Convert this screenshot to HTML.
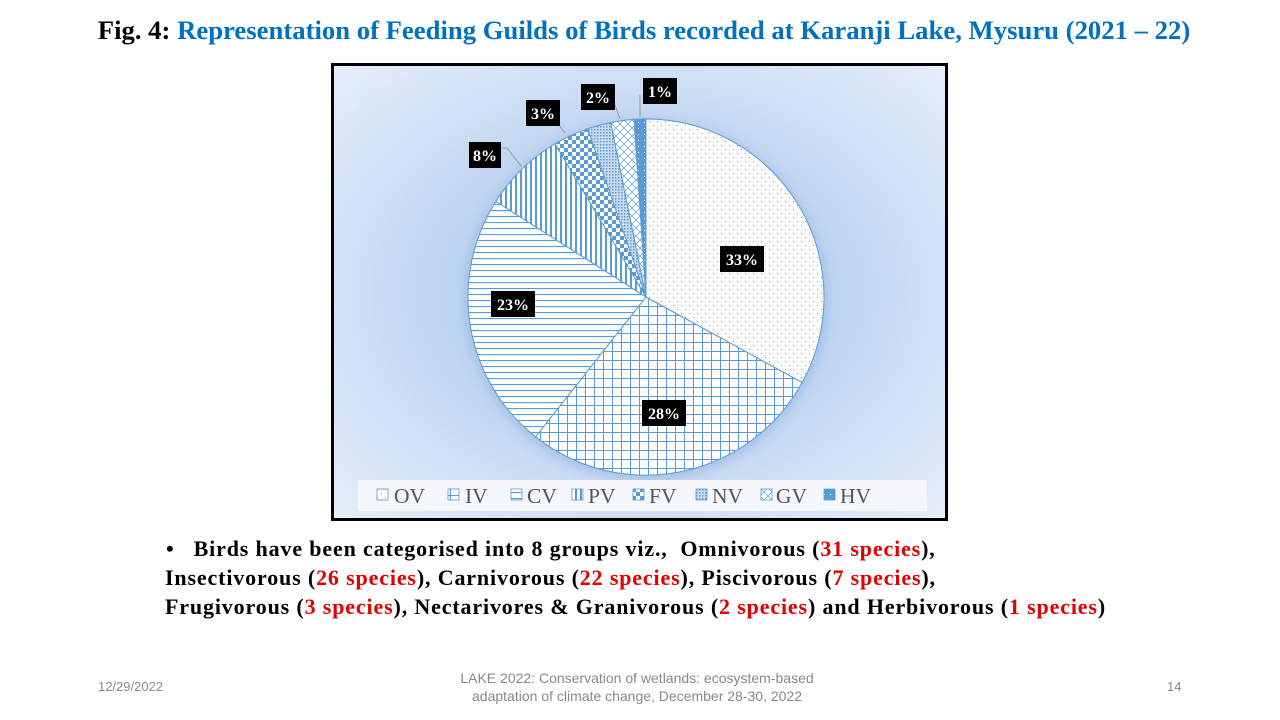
<!DOCTYPE html>
<html><head><meta charset="utf-8"><style>
body{margin:0;width:1280px;height:720px;background:#fff;position:relative;overflow:hidden;font-family:"Liberation Serif",serif}
.t{position:absolute;left:0;width:1288px;text-align:center;top:15px;font-size:26.7px;font-weight:bold;color:#0070c0;white-space:nowrap}
.b{position:absolute;font-size:22px;letter-spacing:0.85px;font-weight:bold;color:#000;white-space:nowrap}
.r{color:#e00000}
.f{position:absolute;font-family:"Liberation Sans",sans-serif;font-size:13px;color:#888}
</style></head><body>
<div class="t"><span style="color:#000">Fig. 4:</span> Representation of Feeding Guilds of Birds recorded at Karanji Lake, Mysuru (2021 – 22)</div>
<svg style="position:absolute;left:0;top:0" width="1280" height="720">
<defs>
<radialGradient id="bg" cx="0.5" cy="0.5" r="0.7"><stop offset="0.35" stop-color="#b7cff0"/><stop offset="1" stop-color="#e6effb"/></radialGradient>
<pattern id="ov" width="8" height="8" patternUnits="userSpaceOnUse"><rect width="8" height="8" fill="#fff"/><rect x="1" y="1" width="1" height="1" fill="#6f9fd0"/><rect x="5" y="5" width="1" height="1" fill="#6f9fd0"/></pattern>
<pattern id="iv" width="9" height="9" patternUnits="userSpaceOnUse"><rect width="9" height="9" fill="#fff"/><path d="M0 0.5H9M0.5 0V9" stroke="#5b9bd5" stroke-width="1"/></pattern>
<pattern id="cv" width="6" height="6" patternUnits="userSpaceOnUse"><rect width="6" height="6" fill="#fff"/><path d="M0 0.5H6" stroke="#5b9bd5" stroke-width="1.2"/></pattern>
<pattern id="pv" width="5" height="5" patternUnits="userSpaceOnUse"><rect width="5" height="5" fill="#fff"/><path d="M1 0V5" stroke="#5b9bd5" stroke-width="2"/></pattern>
<pattern id="fv" width="8" height="8" patternUnits="userSpaceOnUse"><rect width="8" height="8" fill="#fff"/><rect width="4" height="4" fill="#5b9bd5"/><rect x="4" y="4" width="4" height="4" fill="#5b9bd5"/></pattern>
<pattern id="nv" width="3" height="3" patternUnits="userSpaceOnUse"><rect width="3" height="3" fill="#c8dbef"/><rect width="1.5" height="1.5" fill="#5b9bd5"/></pattern>
<pattern id="gv" width="8" height="8" patternUnits="userSpaceOnUse"><rect width="8" height="8" fill="#fff"/><path d="M0 0L8 8M8 0L0 8" stroke="#7aa9da" stroke-width="0.8"/></pattern>
<pattern id="hv" width="6" height="6" patternUnits="userSpaceOnUse"><rect width="6" height="6" fill="#5b9bd5"/><rect x="2" y="2" width="1" height="1" fill="#fff"/></pattern>
<filter id="sh"><feGaussianBlur stdDeviation="6"/></filter>
</defs>
<rect x="332.5" y="64.5" width="614" height="455" fill="url(#bg)" stroke="#000" stroke-width="3"/>
<circle cx="646" cy="300" r="180" fill="#7fa7d8" opacity="0.5" filter="url(#sh)"/>
<g stroke="#5b9bd5" stroke-width="1">
<path d="M646 297L646 119A178 178 0 0 1 802.1 382.5Z" fill="url(#ov)"/>
<path d="M646 297L802.1 382.5A178 178 0 0 1 535.6 436.8Z" fill="url(#iv)"/>
<path d="M646 297L535.6 436.8A178 178 0 0 1 495.9 201.5Z" fill="url(#cv)"/>
<path d="M646 297L495.9 201.5A178 178 0 0 1 555.1 143.8Z" fill="url(#pv)"/>
<path d="M646 297L555.1 143.8A178 178 0 0 1 587.7 128.8Z" fill="url(#fv)"/>
<path d="M646 297L587.7 128.8A178 178 0 0 1 610.7 122.5Z" fill="url(#nv)"/>
<path d="M646 297L610.7 122.5A178 178 0 0 1 634.1 119.4Z" fill="url(#gv)"/>
<path d="M646 297L634.1 119.4A178 178 0 0 1 646 119Z" fill="url(#hv)"/>
</g>
<g stroke="#999" fill="none" stroke-width="1">
<path d="M500 148L507 148L521 166"/><path d="M555 120L565 133"/><path d="M615 105L620 119"/><path d="M640 95L640 117"/>
</g>
<g font-family="Liberation Serif,serif" font-weight="bold" font-size="16" fill="#fff" text-anchor="middle">
<rect x="720" y="246" width="44" height="26" fill="#000"/><text x="742" y="265">33%</text>
<rect x="642" y="400" width="44" height="26" fill="#000"/><text x="664" y="419">28%</text>
<rect x="491" y="291" width="44" height="26" fill="#000"/><text x="513" y="310">23%</text>
<rect x="469" y="142" width="32" height="26" fill="#000"/><text x="485" y="161">8%</text>
<rect x="526" y="100" width="34" height="26" fill="#000"/><text x="543" y="119">3%</text>
<rect x="581" y="84" width="34" height="26" fill="#000"/><text x="598" y="103">2%</text>
<rect x="643" y="78" width="34" height="26" fill="#000"/><text x="660" y="97">1%</text>
</g>
<rect x="358" y="480" width="569" height="31" fill="#f4f7fc"/>
<g font-family="Liberation Serif,serif" font-size="21.5" fill="#555" stroke="#5b9bd5" stroke-width="0.8">
<rect x="377" y="489" width="11" height="11" fill="url(#ov)"/><text x="394" y="503" stroke="none">OV</text>
<rect x="448" y="489" width="11" height="11" fill="url(#iv)"/><text x="465" y="503" stroke="none">IV</text>
<rect x="511" y="489" width="11" height="11" fill="url(#cv)"/><text x="527" y="503" stroke="none">CV</text>
<rect x="572" y="489" width="11" height="11" fill="url(#pv)"/><text x="588" y="503" stroke="none">PV</text>
<rect x="633" y="489" width="11" height="11" fill="url(#fv)"/><text x="649" y="503" stroke="none">FV</text>
<rect x="696" y="489" width="11" height="11" fill="url(#nv)"/><text x="712" y="503" stroke="none">NV</text>
<rect x="761" y="489" width="11" height="11" fill="url(#gv)"/><text x="776" y="503" stroke="none">GV</text>
<rect x="824" y="489" width="11" height="11" fill="url(#hv)"/><text x="840" y="503" stroke="none">HV</text>
</g>
</svg>
<div class="b" style="left:166px;top:536px">•&nbsp;&nbsp;&nbsp;Birds have been categorised into 8 groups viz., &nbsp;Omnivorous (<span class="r">31 species</span>),</div>
<div class="b" style="left:165px;top:565px">Insectivorous (<span class="r">26 species</span>), Carnivorous (<span class="r">22 species</span>), Piscivorous (<span class="r">7 species</span>),</div>
<div class="b" style="left:165px;top:594px">Frugivorous (<span class="r">3 species</span>), Nectarivores &amp; Granivorous (<span class="r">2 species</span>) and Herbivorous (<span class="r">1 species</span>)</div>
<div class="f" style="left:98px;top:679px">12/29/2022</div>
<div class="f" style="left:437px;top:669px;width:400px;text-align:center;line-height:18px;font-size:14px">LAKE 2022: Conservation of wetlands: ecosystem-based<br>adaptation of climate change, December 28-30, 2022</div>
<div class="f" style="left:1167px;top:679px">14</div>
</body></html>
